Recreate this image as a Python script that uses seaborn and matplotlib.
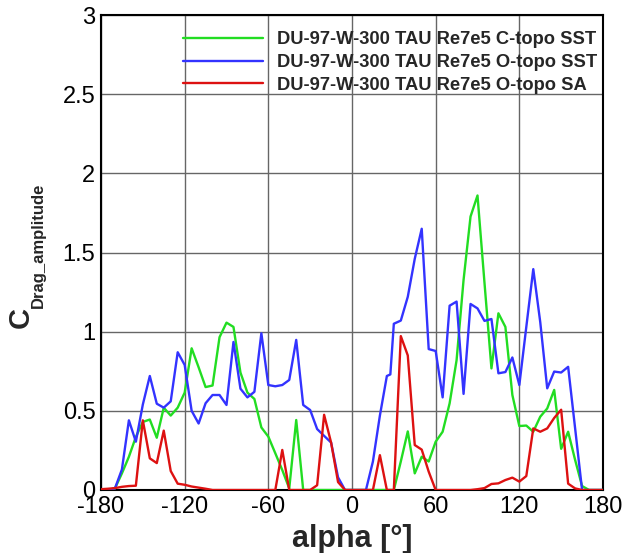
import numpy as np
import pandas as pd
import matplotlib
matplotlib.use("Agg")
import matplotlib.pyplot as plt
from matplotlib.ticker import MultipleLocator, FormatStrFormatter
import seaborn as sns

# ---------------- data ----------------
alpha_grid = list(range(-180, 185, 5))

# C-topo SST (green)
green_alpha = alpha_grid
green_vals = [0, 0, 0.01, 0.105, 0.21, 0.335, 0.43, 0.445, 0.33, 0.52, 0.47, 0.52, 0.615,
              0.895, 0.775, 0.65, 0.66, 0.965, 1.057, 1.03, 0.742, 0.615, 0.575, 0.395, 0.337,
              0.232, 0.126, 0.01, 0.442, 0, 0, 0, 0, 0, 0,
              0, 0, 0, 0, 0, 0, 0, 0, 0.18, 0.37, 0.105, 0.21, 0.18, 0.305, 0.368, 0.547, 0.82,
              1.326, 1.727, 1.86, 1.31, 0.768, 1.116, 1.03, 0.6, 0.404, 0.407, 0.368, 0.463,
              0.515, 0.632, 0.26, 0.368, 0.19, 0.025, 0, 0, 0]

# O-topo SST (blue)
blue_alpha = (list(range(-180, 15, 5)) + [15, 20, 25, 27.5, 30]
              + list(range(35, 185, 5)))
blue_vals = [0, 0, 0.01, 0.13, 0.44, 0.305, 0.54, 0.72, 0.545, 0.52, 0.56, 0.87, 0.79,
             0.5, 0.42, 0.548, 0.6, 0.6, 0.537, 0.935, 0.64, 0.585, 0.62, 0.99, 0.663,
             0.655, 0.663, 0.695, 0.948, 0.537, 0.505, 0.385, 0.342, 0.3, 0.08, 0,
             0, 0, 0,
             0.18, 0.47, 0.72, 0.73, 1.05,
             1.07, 1.22, 1.46, 1.65, 0.89, 0.878, 0.585, 1.164, 1.19, 0.607, 1.175, 1.147,
             1.068, 1.08, 0.737, 0.745, 0.837, 0.663, 1.03, 1.395, 1.06, 0.642, 0.748, 0.742,
             0.778, 0.39, 0, 0, 0, 0]

# O-topo SA (red)
red_alpha = alpha_grid
red_vals = [0.005, 0.008, 0.012, 0.02, 0.025, 0.027, 0.44, 0.2, 0.17, 0.375, 0.12, 0.04,
            0.033, 0.022, 0.015, 0.008, 0, 0, 0, 0, 0, 0, 0, 0, 0, 0, 0.253, 0, 0, 0, 0,
            0.03, 0.475, 0.3, 0.05, 0, 0, 0, 0, 0, 0.22, 0, 0, 0.972, 0.85, 0.284, 0.255,
            0.116, 0, 0, 0, 0, 0, 0, 0.005, 0.012, 0.038, 0.042, 0.063, 0.078, 0.053, 0.088,
            0.389, 0.368, 0.389, 0.455, 0.507, 0.04, 0.01, 0, 0, 0, 0]

labels = ["DU-97-W-300 TAU Re7e5 C-topo SST",
          "DU-97-W-300 TAU Re7e5 O-topo SST",
          "DU-97-W-300 TAU Re7e5 O-topo SA"]
colors = ["#22dd22", "#3333ff", "#dd1111"]

x_ticks = [-180, -120, -60, 0, 60, 120, 180]
y_ticks = [0, 0.5, 1, 1.5, 2, 2.5, 3]

df = pd.concat([
    pd.DataFrame({"alpha": green_alpha, "c": green_vals, "case": labels[0]}),
    pd.DataFrame({"alpha": blue_alpha, "c": blue_vals, "case": labels[1]}),
    pd.DataFrame({"alpha": red_alpha, "c": red_vals, "case": labels[2]}),
], ignore_index=True)

# ---------------- style ----------------
sns.set_style("white")
plt.rcParams["font.family"] = ["Liberation Sans", "DejaVu Sans"]
plt.rcParams["axes.unicode_minus"] = False

W, H = 625, 553
fig = plt.figure(figsize=(W / 100, H / 100), dpi=100)
ax = fig.add_axes([101 / W, 1 - 490 / H, (603 - 101) / W, (490 - 15) / H])

sns.lineplot(data=df, x="alpha", y="c", hue="case", hue_order=labels,
             palette=dict(zip(labels, colors)), sort=False, estimator=None,
             linewidth=1.7, ax=ax, zorder=3)

ax.set_xlim(-180, 180)
ax.set_ylim(0, 3)
ax.set_xticks(x_ticks)
ax.set_yticks(y_ticks)
ax.xaxis.set_minor_locator(MultipleLocator(10))
ax.yaxis.set_minor_locator(MultipleLocator(0.1))
ax.yaxis.set_major_formatter(FormatStrFormatter("%g"))
ax.grid(True, which="major", color="#666666", linewidth=1.0, zorder=1)
ax.tick_params(which="major", direction="in", length=8, width=1.5, labelsize=17,
               top=False, right=False, pad=4, colors="black")
ax.tick_params(which="minor", direction="in", length=4, width=0.8,
               top=False, right=False, colors="#333333")
for s in ax.spines.values():
    s.set_color("black")
    s.set_linewidth(1.5)

ax.set_xlabel("alpha [°]", fontsize=22, fontweight="bold", labelpad=5)
ax.set_ylabel("")
# y label: "C" with subscript "Drag_amplitude"
fig.text(21 / W, 1 - 318 / H, "C", rotation=90, ha="center", va="center",
         fontsize=21, fontweight="bold")
fig.text(38 / W, 1 - 308 / H, "Drag_amplitude", rotation=90, ha="center",
         va="bottom", fontsize=12, fontweight="bold")

leg = ax.legend(loc="upper left", bbox_to_anchor=(182.7 / W, 1 - 31.5 / H),
                bbox_transform=fig.transFigure, frameon=False,
                handlelength=4.4, handletextpad=0.76, labelspacing=0.3,
                borderpad=0, borderaxespad=0,
                prop={"size": 13.2, "weight": "bold"})
for line in leg.get_lines():
    line.set_linewidth(1.7)

fig.savefig("out.png", dpi=100)
